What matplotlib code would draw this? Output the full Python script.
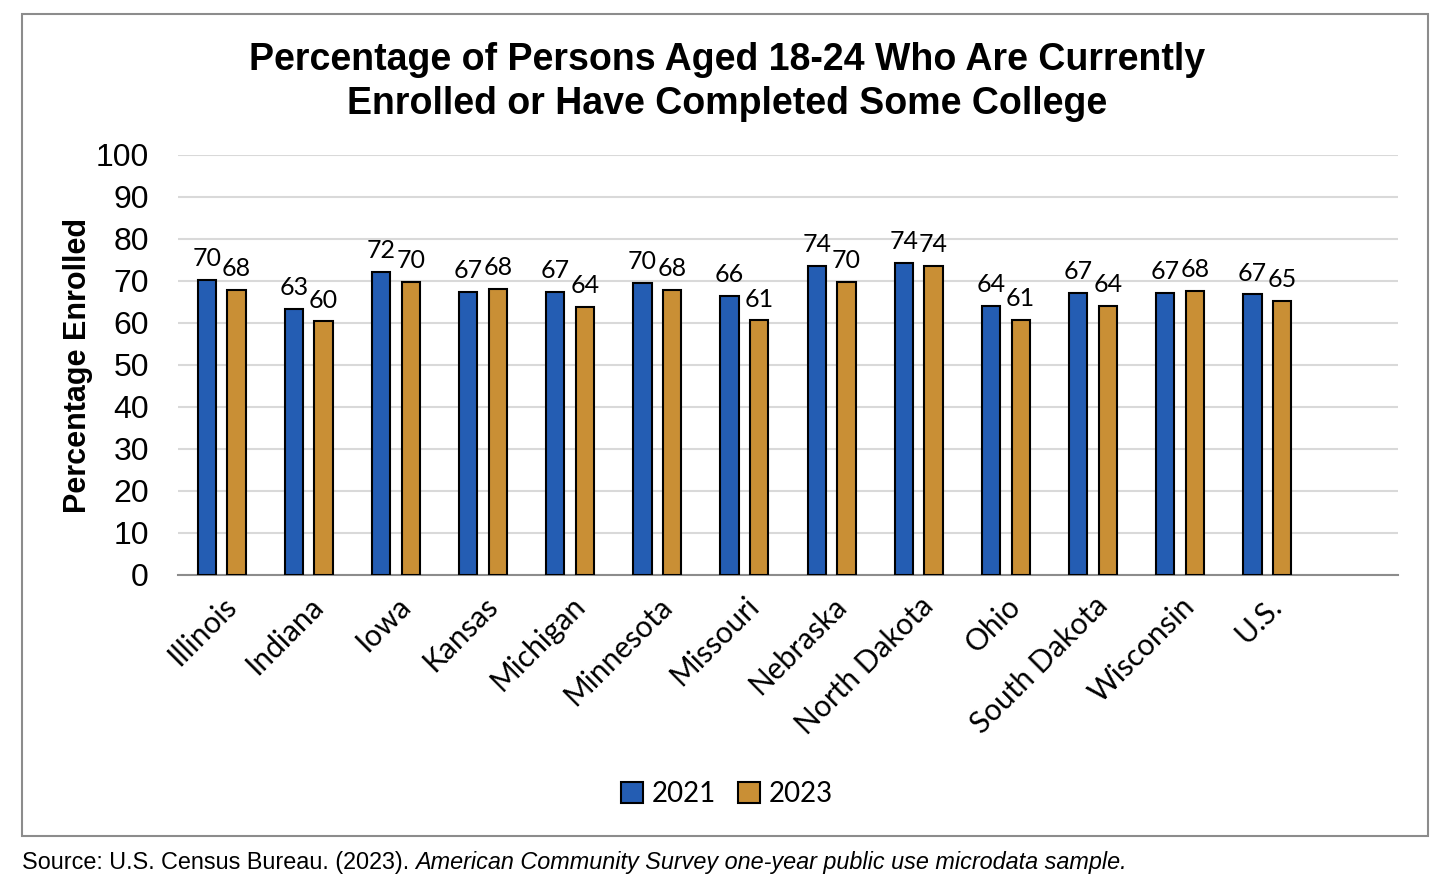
import matplotlib
matplotlib.use("Agg")
import matplotlib.pyplot as plt
import numpy as np
from matplotlib.patches import Rectangle

# Data
states = ["Illinois", "Indiana", "Iowa", "Kansas", "Michigan", "Minnesota", "Missouri",
          "Nebraska", "North Dakota", "Ohio", "South Dakota", "Wisconsin", "U.S."]
pct_2021 = [70.2, 63.3, 72.2, 67.4, 67.4, 69.6, 66.4, 73.6, 74.3, 64.1, 67.2, 67.2, 66.8]
pct_2023 = [67.9, 60.4, 69.8, 68.1, 63.9, 67.9, 60.6, 69.8, 73.6, 60.7, 64.1, 67.7, 65.3]
yticks = [0, 10, 20, 30, 40, 50, 60, 70, 80, 90, 100]

blue = "#245DB3"
gold = "#C98F35"

fig = plt.figure(figsize=(14.54, 8.92), dpi=100)
ax = fig.add_axes([178 / 1454, 1 - 575 / 892, 1220 / 1454, 420 / 892])

x = np.arange(len(states))
w = 0.21
off = 0.17
b1 = ax.bar(x - off, pct_2021, w, color=blue, edgecolor="black", linewidth=1.5, label="2021", zorder=3)
b2 = ax.bar(x + off, pct_2023, w, color=gold, edgecolor="black", linewidth=1.5, label="2023", zorder=3)

for bars in (b1, b2):
    ax.bar_label(bars, fmt="%.0f", padding=7, fontsize=18, family="Lato")

ax.set_xlim(-0.5, len(states) + 0.5)
ax.set_ylim(0, 100)
ax.set_yticks(yticks)
ax.yaxis.grid(True, color="#d9d9d9", linewidth=1.5, zorder=0)
ax.set_axisbelow(True)
for s in ["top", "right", "left"]:
    ax.spines[s].set_visible(False)
ax.spines["bottom"].set_color("#8c8c8c")
ax.spines["bottom"].set_linewidth(1.5)
ax.tick_params(axis="both", length=0)
ax.tick_params(axis="y", labelsize=23, pad=21)
for lab in ax.get_yticklabels():
    lab.set_family("Liberation Sans")

ax.set_xticks(x)
ax.set_xticklabels(states, rotation=45, ha="right", rotation_mode="anchor", fontsize=21.5, family="Lato")
ax.tick_params(axis="x", pad=12)

ax.set_ylabel("Percentage Enrolled", fontsize=22, fontweight="bold", family="Liberation Sans", labelpad=2)

fig.text(0.5, 1 - 82 / 892, "Percentage of Persons Aged 18-24 Who Are Currently\nEnrolled or Have Completed Some College",
         ha="center", va="center", fontsize=27, fontweight="bold", family="Liberation Sans", linespacing=1.3)

leg = fig.legend(handles=[b1, b2], loc="center", bbox_to_anchor=(0.5, 1 - 794 / 892), ncol=2, frameon=False,
                 prop={"family": "Lato", "size": 20}, handlelength=0.8, handleheight=0.8,
                 handletextpad=0.3, columnspacing=0.8)

# outer border
fig.patches.append(Rectangle((22 / 1454, 1 - 836 / 892), 1406 / 1454, 822 / 892, transform=fig.transFigure,
                             fill=False, edgecolor="#8c8c8c", linewidth=1.5))

# source line, regular then italic
t1 = fig.text(22 / 1454, 1 - 862 / 892, "Source: U.S. Census Bureau. (2023). ", ha="left", va="center",
              fontsize=16.8, family="Liberation Sans")
fig.canvas.draw()
bb = t1.get_window_extent()
fig.text(bb.x1 / fig.bbox.width, 1 - 862 / 892, "American Community Survey one-year public use microdata sample.",
         ha="left", va="center", fontsize=16.8, family="Liberation Sans", style="italic")

fig.savefig("out.png", dpi=100)
